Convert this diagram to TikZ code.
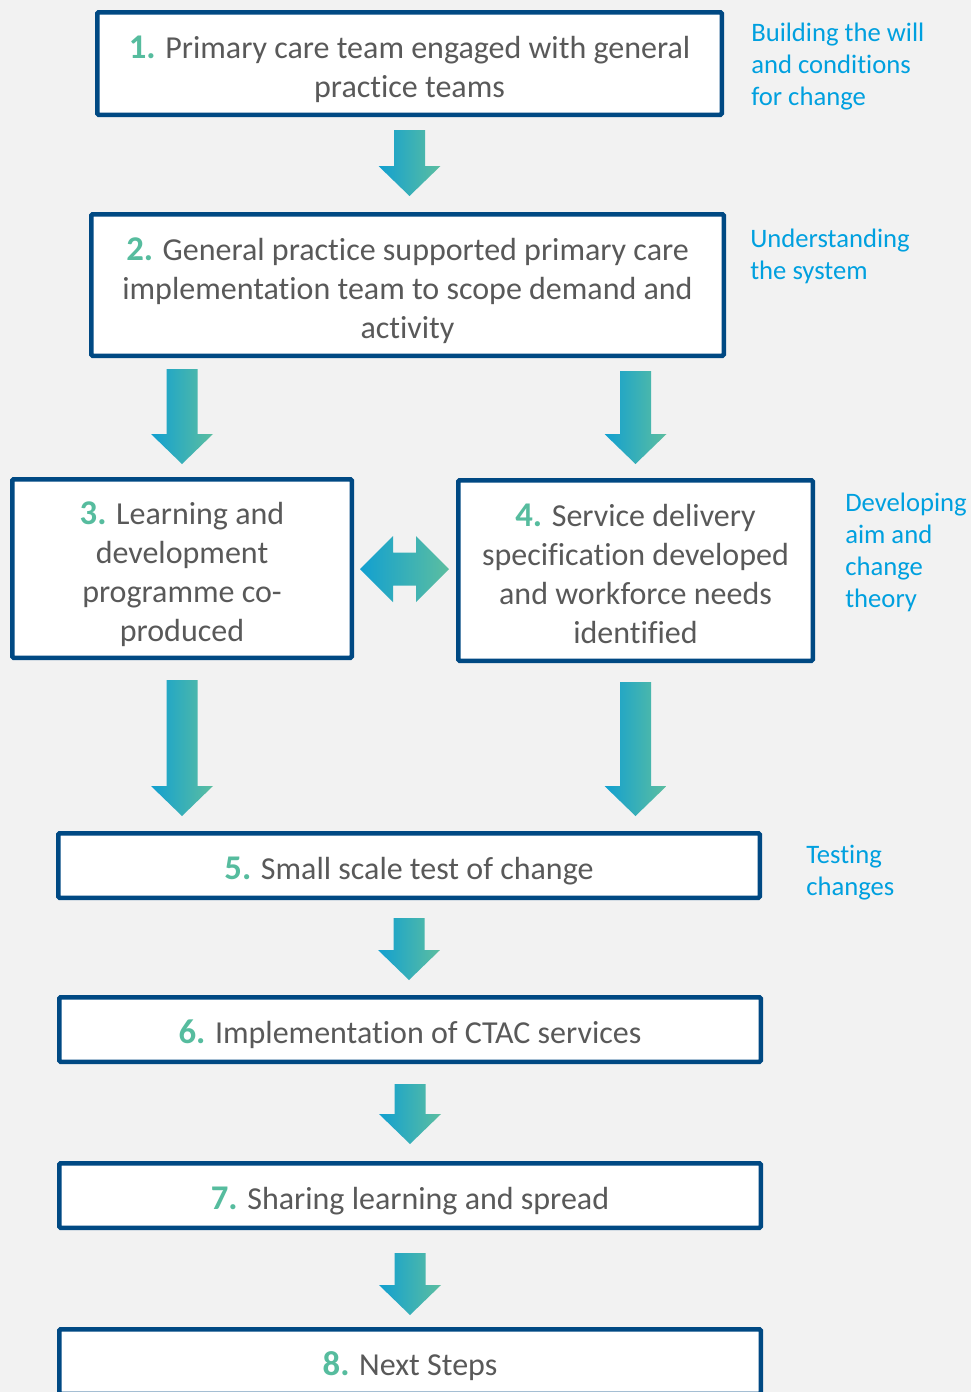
\documentclass[tikz,border=0pt]{standalone}
\usepackage{fontspec}
\setmainfont{Carlito}[Ligatures=NoCommon]
\usetikzlibrary{calc}

\definecolor{boxblue}{RGB}{0,73,131}
\definecolor{numgreen}{RGB}{86,188,158}
\definecolor{textgray}{RGB}{89,89,89}
\definecolor{phaseblue}{RGB}{0,160,223}
\definecolor{arrowcyan}{RGB}{18,160,208}
\definecolor{arrowteal}{RGB}{92,190,160}
\definecolor{pagegray}{RGB}{242,242,242}

\newcommand{\pxu}{0.75pt}
\newcommand{\stepno}[1]{\rule{0pt}{21.5pt}{\fontsize{26}{29.25}\selectfont\bfseries\color{numgreen}#1}}

\tikzset{
  stepbox/.style={draw=boxblue, line width=4.5*\pxu, fill=white, rounded corners=1pt,
    inner sep=0pt, align=center, text=textgray, font=\fontsize{24}{29.25}\selectfont,
    text depth=0pt},
  widebox/.style={stepbox, minimum width=701.5*\pxu, minimum height=64.5*\pxu},
  phaselabel/.style={anchor=north west, inner sep=0pt, align=left, text=phaseblue,
    font=\fontsize{20}{24}\selectfont},
  arrowfill/.style={left color=arrowcyan, right color=arrowteal, draw=none}
}

% block arrow pointing down: #1 top of shaft, #2 level of the tip
\newcommand{\flowarrow}[2]{%
  \coordinate (fa-top) at #1;
  \coordinate (fa-end) at #2;
  \coordinate (fa-tip) at (fa-top |- fa-end);
  \shade[arrowfill] ($(fa-top)+(-15.5,0)$) -- ($(fa-top)+(15.5,0)$) -- ($(fa-tip)+(15.5,-30)$)
    -- ($(fa-tip)+(31,-30)$) -- (fa-tip) -- ($(fa-tip)+(-31,-30)$) -- ($(fa-tip)+(-15.5,-30)$) -- cycle;}

\begin{document}
\begin{tikzpicture}[x=\pxu, y=-\pxu]
  \useasboundingbox (0,0) rectangle (971,1392);
  \clip (0,0) rectangle (971,1392);
  \fill[pagegray] (0,0) rectangle (971,1392);

  % steps
  \node[stepbox, minimum width=624.5*\pxu, minimum height=102.5*\pxu] (b1) at (409.5,63.5)
    {\stepno{1.} Primary care team engaged with general\\practice teams};
  \node[stepbox, minimum width=632.5*\pxu, minimum height=141.5*\pxu] (b2) at (407.5,285)
    {\stepno{2.} General practice supported primary care\\implementation team to scope demand and\\activity};
  \node[stepbox, minimum width=339.5*\pxu, minimum height=178.5*\pxu] (b3) at (182,568.5)
    {\stepno{3.} Learning and\\development\\programme co-\\produced};
  \node[stepbox, minimum width=354.5*\pxu, minimum height=180.5*\pxu] (b4) at (635.5,570.5)
    {\stepno{4.} Service delivery\\specification developed\\and workforce needs\\identified};
  \node[widebox] (b5) at (409,865.5) {\stepno{5.} Small scale test of change};
  \node[widebox] (b6) at (410,1029.5) {\stepno{6.} Implementation of CTAC services};
  \node[widebox] (b7) at (410,1195.5) {\stepno{7.} Sharing learning and spread};
  \node[widebox] (b8) at (410,1361.5) {\stepno{8.} Next Steps};

  % phases
  \node[phaselabel] (p1) at (751,23) {Building the will\\and conditions\\for change};
  \node[phaselabel] (p2) at (750,229) {Understanding\\the system};
  \node[phaselabel] (p3) at (845,493) {Developing\\aim and\\change\\theory};
  \node[phaselabel] (p4) at (806,845) {Testing\\changes};

  % arrows
  \flowarrow{($(b1.south)+(0,13)$)}{($(b2.north)+(0,-16)$)}
  \flowarrow{($(b3.north |- b2.south)+(0,11)$)}{($(b3.north)+(0,-13)$)}
  \flowarrow{($(b4.north |- b2.south)+(0,13)$)}{($(b4.north)+(0,-14)$)}
  \flowarrow{($(b3.south)+(0,20)$)}{($(b5.north)+(0,-15)$)}
  \flowarrow{($(b4.south)+(0,19)$)}{($(b5.north)+(0,-15)$)}
  \flowarrow{($(b5.south)+(0,18)$)}{($(b6.north)+(0,-15)$)}
  \flowarrow{($(b6.south)+(0,20)$)}{($(b7.north)+(0,-17)$)}
  \flowarrow{($(b7.south)+(0,23)$)}{($(b8.north)+(0,-12)$)}

  % two-way arrow between 3 and 4
  \coordinate (ta-l) at ($(b3.east)+(6,0.5)$);
  \coordinate (ta-r) at ($(b4.west |- ta-l)+(-7,0)$);
  \shade[arrowfill] (ta-l) -- ($(ta-l)+(33,-33)$) -- ($(ta-l)+(33,-16.5)$) -- ($(ta-r)+(-33,-16.5)$)
    -- ($(ta-r)+(-33,-33)$) -- (ta-r) -- ($(ta-r)+(-33,33)$) -- ($(ta-r)+(-33,16.5)$)
    -- ($(ta-l)+(33,16.5)$) -- ($(ta-l)+(33,33)$) -- cycle;
\end{tikzpicture}
\end{document}
